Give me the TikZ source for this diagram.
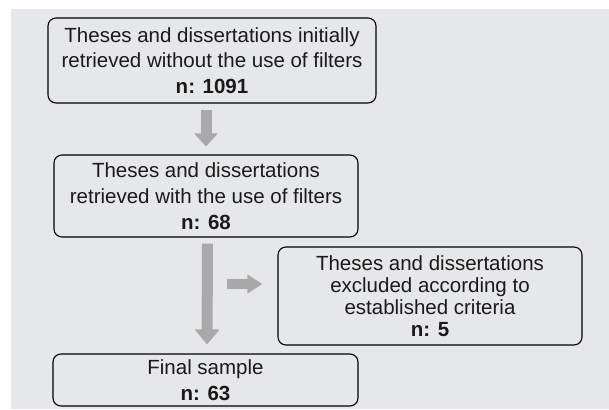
\documentclass[tikz,border=0pt]{standalone}
\usepackage{fontspec}
\setmainfont{Liberation Sans}
\usetikzlibrary{arrows.meta}
\definecolor{bgcol}{HTML}{E6E7E9}
\definecolor{arrcol}{HTML}{A9A9AA}
\definecolor{txtcol}{HTML}{1A1A1A}
\tikzset{
  box/.style={draw=black, line width=1.1pt, rounded corners=8pt, align=center,
    inner sep=0pt, text=txtcol, font=\fontsize{20.5}{25.7}\selectfont},
  fatdown/.style={draw=arrcol, line width=11pt, -{Triangle[width=23pt,length=13pt]}},
  fatdownlong/.style={draw=arrcol, line width=11pt, -{Triangle[width=24pt,length=15pt]}},
  fatright/.style={draw=arrcol, line width=10pt, -{Triangle[width=18pt,length=15pt]}}
}
\begin{document}
\begin{tikzpicture}[x=1pt,y=-1pt]
\useasboundingbox (0,0) rectangle (609,409);
\fill[bgcol] (11,9) rectangle (609,409);
\node[box, minimum width=328pt, minimum height=85pt] (b1) at (212,60.5)
  {Theses and dissertations initially\\retrieved without the use of filters\\\textbf{n: 1091}};
\node[box, minimum width=304pt, minimum height=82pt] (b2) at (206,196)
  {Theses and dissertations\\retrieved with the use of filters\\\textbf{n: 68}};
\node[box, minimum width=304pt, minimum height=98pt, font=\fontsize{20.5}{22.2}\selectfont] (b3) at (430,296)
  {Theses and dissertations\\excluded according to\\established criteria\\\textbf{n: 5}};
\node[box, minimum width=305pt, minimum height=52pt, font=\fontsize{20.5}{26.5}\selectfont] (b4) at (205.5,380)
  {Final sample\\\textbf{n: 63}};
\draw[fatdown, shorten <=6pt, shorten >=8pt] (b1.south -| b2.north) -- (b2.north);
\draw[fatdownlong, shorten <=6pt, shorten >=9pt] ([xshift=1.5pt]b2.south) -- ([xshift=1.5pt]b4.north);
\coordinate (c) at (212,284);
\draw[fatright, shorten <=15pt, shorten >=15pt] (c) -- (c -| b3.west);
\end{tikzpicture}
\end{document}
